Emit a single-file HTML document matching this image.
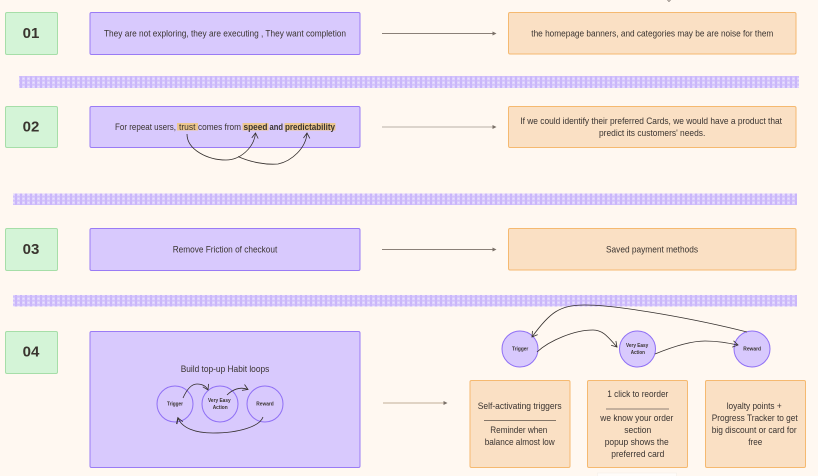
<!DOCTYPE html>
<html>
<head>
<meta charset="utf-8">
<style>
html,body{margin:0;padding:0;background:#fff8f1;}
svg{display:block;}
text{font-family:"Liberation Sans",sans-serif;fill:#3a3431;font-size:9.2px;dominant-baseline:central;}
.n{font-size:15px;font-weight:bold;text-anchor:middle;fill:#3a352f;}
.s{font-size:5.8px;font-weight:bold;}
.g{fill:#d4f4d7;stroke:#a6dea8;stroke-width:1;}
.p{fill:#d8c9fd;stroke:#9a7bf5;stroke-width:1;}
.o{fill:#fae0c4;stroke:#f5b970;stroke-width:1;}
.c{fill:#d8c9fd;stroke:#8f6ff5;stroke-width:1;}
.a{fill:none;stroke:#332e2c;stroke-width:.8;}
.h{fill:#ecc68e;}
</style>
</head>
<body>
<svg width="818" height="476" viewBox="0 0 818 476" xmlns="http://www.w3.org/2000/svg">
<defs>
<pattern id="gr" width="5" height="4" patternUnits="userSpaceOnUse">
<rect width="5" height="4" fill="#dfd3fc"/>
<rect x="0" width="2" height="4" fill="#c9b5fa"/>
<rect y="0" width="5" height="1.500" fill="#cdbbfa" fill-opacity=".75"/>
<rect x="3" y="2" width="1" height="1" fill="#ebe3fe"/>
</pattern>
<marker id="ah" markerWidth="7" markerHeight="8" refX="6" refY="4" orient="auto" markerUnits="userSpaceOnUse">
<path d="M.8 .8L6 4L.8 7.200" fill="none" stroke="#332e2c" stroke-width=".8"/>
</marker>
</defs>
<rect width="818" height="476" fill="#fff8f1"/>

<rect x="19" y="76" width="780" height="12" fill="url(#gr)"/>
<rect x="13" y="193.500" width="784" height="11.500" fill="url(#gr)"/>
<rect x="13" y="295" width="784" height="11.500" fill="url(#gr)"/>

<rect class="g" x="5.500" y="12.500" width="52" height="42" rx="1.500"/>
<rect class="g" x="5.500" y="106.500" width="52" height="41" rx="1.500"/>
<rect class="g" x="5.500" y="228.500" width="52" height="42" rx="1.500"/>
<rect class="g" x="5.500" y="331.500" width="52" height="42" rx="1.500"/>
<text class="n" x="31" y="33.500">01</text>
<text class="n" x="31" y="127">02</text>
<text class="n" x="31" y="249.500">03</text>
<text class="n" x="31" y="352">04</text>

<rect class="p" x="90" y="12.500" width="270" height="42" rx="1.500"/>
<rect class="p" x="90" y="106.500" width="270" height="41" rx="1.500"/>
<rect class="p" x="90" y="228.500" width="270" height="42" rx="1.500"/>
<rect class="p" x="90" y="331.500" width="270" height="136" rx="1.500"/>

<rect class="o" x="508.500" y="12.500" width="287.500" height="41.500" rx="1.500"/>
<rect class="o" x="508.500" y="106.500" width="287.500" height="41" rx="1.500"/>
<rect class="o" x="508.500" y="228.500" width="287.500" height="41.500" rx="1.500"/>
<rect class="o" x="470" y="380.500" width="100" height="87" rx="1.500"/>
<rect class="o" x="587.500" y="380.500" width="100" height="87" rx="1.500"/>
<rect class="o" x="705.500" y="380.500" width="100" height="87" rx="1.500"/>

<text x="104" y="33.500" textLength="242" lengthAdjust="spacingAndGlyphs">They are not exploring, they are executing , They want completion</text>
<rect class="h" x="177" y="123" width="21" height="7.500"/>
<rect class="h" x="242.500" y="123" width="26" height="7.500"/>
<rect class="h" x="284.500" y="123" width="51" height="7.500"/>
<text x="115" y="127" textLength="61" lengthAdjust="spacingAndGlyphs">For repeat users,</text>
<text x="179" y="127" textLength="16.500" lengthAdjust="spacingAndGlyphs">trust</text>
<text x="198" y="127" textLength="43" lengthAdjust="spacingAndGlyphs">comes from</text>
<text x="243.500" y="127" textLength="24" lengthAdjust="spacingAndGlyphs" font-weight="bold">speed</text>
<text x="269.500" y="127" textLength="13.500" lengthAdjust="spacingAndGlyphs" font-weight="bold">and</text>
<text x="285" y="127" textLength="50" lengthAdjust="spacingAndGlyphs" font-weight="bold">predictability</text>
<text x="172.700" y="249.500" textLength="104.600" lengthAdjust="spacingAndGlyphs">Remove Friction of checkout</text>
<text x="180.700" y="369" textLength="88.600" lengthAdjust="spacingAndGlyphs">Build top-up Habit loops</text>

<text x="531.300" y="33.500" textLength="242" lengthAdjust="spacingAndGlyphs">the homepage banners, and categories may be are noise for them</text>
<text x="520.300" y="121" textLength="261.700" lengthAdjust="spacingAndGlyphs">If we could identify their preferred Cards, we would have a product that</text>
<text x="599" y="133" textLength="106.300" lengthAdjust="spacingAndGlyphs">predict its customers' needs.</text>
<text x="606" y="249.500" textLength="92" lengthAdjust="spacingAndGlyphs">Saved payment methods</text>

<path d="M382 33.500H495" stroke="#8a8078" stroke-width=".9" fill="none"/>
<path d="M492.500 31.500L496.500 33.500L492.500 35.500Z" fill="#7a7068"/>
<path d="M382 127H495" stroke="#c6bfb6" stroke-width="1.300" fill="none"/>
<path d="M492.500 125L496.500 127L492.500 129Z" fill="#7a7068"/>
<path d="M382 249.500H495" stroke="#8a8078" stroke-width=".9" fill="none"/>
<path d="M492.500 247.500L496.500 249.500L492.500 251.500Z" fill="#7a7068"/>
<path d="M383 403H446" stroke="#c0ae98" stroke-width="1.100" fill="none"/>
<path d="M443.500 401L447.500 403L443.500 405Z" fill="#7a7068"/>

<path class="a" marker-end="url(#ah)" d="M187 134C187 150 208 160 226 160C240 160 254 148 255.500 133"/>
<path class="a" marker-end="url(#ah)" d="M238 156.500C250 162 265 165 278 164C292 161 306 148 307 133"/>

<circle class="c" cx="175" cy="404" r="18"/>
<circle class="c" cx="220" cy="404" r="18"/>
<circle class="c" cx="265" cy="404" r="18"/>
<text class="s" x="167" y="404.500" textLength="16" lengthAdjust="spacingAndGlyphs">Trigger</text>
<text class="s" x="208" y="401" textLength="22.700" lengthAdjust="spacingAndGlyphs">Very Easy</text>
<text class="s" x="212.700" y="408" textLength="15" lengthAdjust="spacingAndGlyphs">Action</text>
<text class="s" x="256.300" y="404.500" textLength="17.400" lengthAdjust="spacingAndGlyphs">Reward</text>
<path class="a" marker-end="url(#ah)" d="M183 398C187 389 192 384 197 384C202 384 206 386 208 390"/>
<path class="a" marker-end="url(#ah)" d="M227 395C232 390 240 386 248 389.500"/>
<path class="a" marker-end="url(#ah)" d="M263 417C260 426 240 433 213 433C195 433 182 428 178 418"/>
<path d="M176.500 424L178 417" fill="none" stroke="#332e2c" stroke-width=".8"/>

<circle class="c" cx="520" cy="349" r="18"/>
<circle class="c" cx="637.500" cy="349" r="18"/>
<circle class="c" cx="752" cy="349" r="18"/>
<text class="s" x="512" y="349.500" textLength="16.300" lengthAdjust="spacingAndGlyphs">Trigger</text>
<text class="s" x="626" y="346" textLength="22.300" lengthAdjust="spacingAndGlyphs">Very Easy</text>
<text class="s" x="630.700" y="353" textLength="14.300" lengthAdjust="spacingAndGlyphs">Action</text>
<text class="s" x="743.300" y="349.500" textLength="17.700" lengthAdjust="spacingAndGlyphs">Reward</text>
<path class="a" marker-end="url(#ah)" d="M747 332C700 320 620 305 585 305C560 305 550 312 532 337"/>
<path class="a" marker-end="url(#ah)" d="M537 352C550 340 575 330 593 330C603 330 608 337 617 347"/>
<path class="a" marker-end="url(#ah)" d="M655 354C672 347 690 341 705 341C718 341 728 343 738 345"/>

<text x="477.700" y="406" textLength="84" lengthAdjust="spacingAndGlyphs">Self-activating triggers</text>
<path d="M484 420.300H556" stroke="#3d3733" stroke-width=".7"/>
<text x="490.300" y="430" textLength="57" lengthAdjust="spacingAndGlyphs">Reminder when</text>
<text x="484.700" y="442" textLength="70" lengthAdjust="spacingAndGlyphs">balance almost low</text>

<text x="607.300" y="394" textLength="61" lengthAdjust="spacingAndGlyphs">1 click to reorder</text>
<path d="M606 409H669" stroke="#6a625c" stroke-width=".8"/>
<text x="600.300" y="418" textLength="73" lengthAdjust="spacingAndGlyphs">we know your order</text>
<text x="624.300" y="430" textLength="27" lengthAdjust="spacingAndGlyphs">section</text>
<text x="604.700" y="442" textLength="64" lengthAdjust="spacingAndGlyphs">popup shows the</text>
<text x="611.300" y="454" textLength="53" lengthAdjust="spacingAndGlyphs">preferred card</text>

<text x="726.700" y="406" textLength="55" lengthAdjust="spacingAndGlyphs">loyalty points +</text>
<text x="711.700" y="418" textLength="86" lengthAdjust="spacingAndGlyphs">Progress Tracker to get</text>
<text x="711.700" y="430" textLength="85" lengthAdjust="spacingAndGlyphs">big discount or card for</text>
<text x="748.300" y="442" textLength="14" lengthAdjust="spacingAndGlyphs">free</text>

<path d="M667.500 0L669 1.500L670.500 0" fill="none" stroke="#6a625c" stroke-width=".7"/>
<rect x="597.500" y="473" width="79" height="6" fill="#fffcf9" stroke="#f3eee8" stroke-width=".6"/>
</svg>
</body>
</html>
